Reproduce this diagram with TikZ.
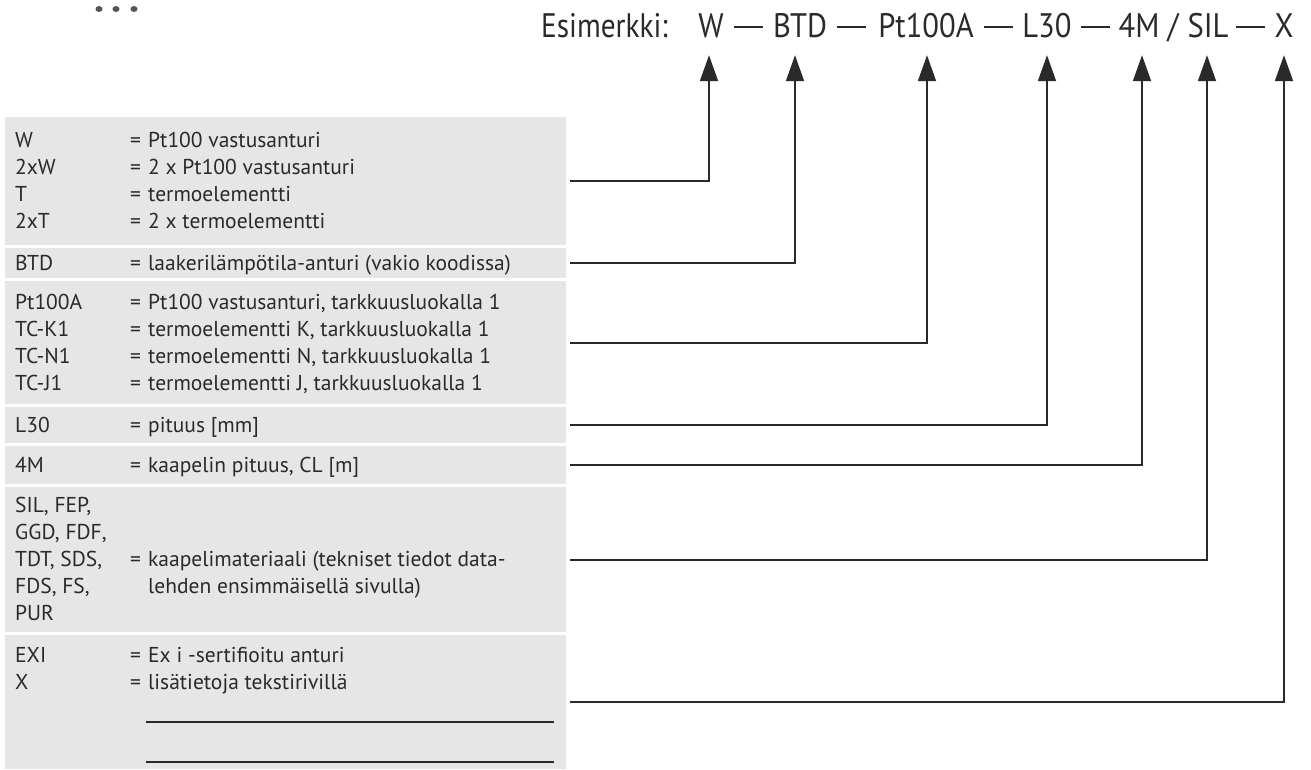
\documentclass[tikz,border=0pt]{standalone}
\usepackage{fontspec}
\setmainfont{PT Sans}
\newfontfamily\headfont[FakeStretch=0.9]{PT Sans}
\newfontfamily\esimfont[FakeStretch=0.86]{PT Sans}
\usetikzlibrary{arrows.meta}
\definecolor{boxgray}{HTML}{E6E6E6}
\definecolor{ink}{HTML}{2A2A2A}
\newcommand\tabrow[4]{%
  \node[code] (c#1) at (15,#2) {#3};
  \node[desc] (d#1) at (130,#2) {\makebox[18pt][l]{=}#4};}
\newcommand\hdash{\rule[9.5pt]{29pt}{1.7pt}}
\begin{document}
\begin{tikzpicture}[x=1pt,y=-1pt,
  blk/.style={fill=boxgray, draw=none, minimum width=561pt, inner sep=0pt, anchor=north west},
  code/.style={font=\fontsize{21.5}{27}\selectfont, text=ink, inner sep=0pt, anchor=base west},
  desc/.style={font=\fontsize{21.5}{27}\selectfont, text=ink, inner sep=0pt, anchor=base west},
  head/.style={font=\headfont\fontsize{34}{34}\selectfont, text=ink, inner sep=0pt, anchor=base, text depth=0pt},
  conn/.style={draw=ink, line width=1.8pt, shorten <=4pt, shorten >=18pt, -{Triangle[length=26pt,width=18pt]}},
  uline/.style={draw=ink, line width=1.5pt}]
\path[use as bounding box] (0,0) rectangle (1311,769);

% remnant marks at top left
\fill[ink!80] (99,9) ellipse (3.5 and 3);
\fill[ink!80] (116,9) ellipse (3.5 and 3);
\fill[ink!80] (134,9) ellipse (3.5 and 3);

% heading
\node[head, font=\esimfont\fontsize{34}{34}\selectfont, anchor=base west] (esim) at (541,37) {Esimerkki:};
\node[head] (W) at (711,37) {W};
\node[head] (d1) at (748,37) {\hdash};
\node[head] (BTD) at (800,37) {BTD};
\node[head] (d2) at (851,37) {\hdash};
\node[head] (Pt) at (926,37) {Pt100A};
\node[head] (d3) at (998,37) {\hdash};
\node[head] (L) at (1047,37) {L30};
\node[head] (d4) at (1095,37) {\hdash};
\node[head] (M) at (1139,37) {4M};
\node[head] (sl) at (1173,37) {/};
\node[head] (SIL) at (1208,37) {SIL};
\node[head] (d5) at (1250,37) {\hdash};
\node[head] (X) at (1284,37) {X};

% gray blocks
\node[blk, minimum height=128pt] (bW) at (5,117) {};
\node[blk, minimum height=30pt] (bBTD) at (5,248) {};
\node[blk, minimum height=123pt] (bPt) at (5,281) {};
\node[blk, minimum height=36pt] (bL) at (5,407) {};
\node[blk, minimum height=38pt] (bM) at (5,446) {};
\node[blk, minimum height=145pt] (bSIL) at (5,487) {};
\node[blk, minimum height=134pt] (bX) at (5,635) {};

% rows
\tabrow{1}{147.5}{W}{Pt100 vastusanturi}
\tabrow{2}{174.5}{2xW}{2 x Pt100 vastusanturi}
\tabrow{3}{201.5}{T}{termoelementti}
\tabrow{4}{228.5}{2xT}{2 x termoelementti}
\tabrow{5}{270}{BTD}{laakerilämpötila-anturi (vakio koodissa)}
\tabrow{6}{309}{Pt100A}{Pt100 vastusanturi, tarkkuusluokalla 1}
\tabrow{7}{336}{TC-K1}{termoelementti K, tarkkuusluokalla 1}
\tabrow{8}{363}{TC-N1}{termoelementti N, tarkkuusluokalla 1}
\tabrow{9}{390}{TC-J1}{termoelementti J, tarkkuusluokalla 1}
\tabrow{10}{432}{L30}{pituus [mm]}
\tabrow{11}{472}{4M}{kaapelin pituus, CL [m]}
\node[code] (s1) at (15,512.5) {SIL, FEP,};
\node[code] (s2) at (15,539.5) {GGD, FDF,};
\node[code] (s3) at (15,566.5) {TDT, SDS,};
\node[code] (s4) at (15,593.5) {FDS, FS,};
\node[code] (s5) at (15,620.5) {PUR};
\node[desc] (sd1) at (130,566.5) {\makebox[18pt][l]{=}kaapelimateriaali (tekniset tiedot data-};
\node[desc] (sd2) at (148,593.5) {lehden ensimmäisellä sivulla)};
\tabrow{12}{662}{EXI}{Ex i -sertifioitu anturi}
\tabrow{13}{689}{X}{lisätietoja tekstirivillä}
\draw[uline] (146,722) -- (554,722);
\draw[uline] (146,762) -- (554,762);

% connectors
\draw[conn] (bW.east) -| ([xshift=-2pt]W.south);
\draw[conn] (bBTD.east) -| ([xshift=-5pt]BTD.south);
\draw[conn] (bPt.east) -| ([xshift=1pt]Pt.south);
\draw[conn] (bL.east) -| (L.south);
\draw[conn] (bM.east) -| ([xshift=3pt]M.south);
\draw[conn] (bSIL.east) -| ([xshift=-1pt]SIL.south);
\draw[conn] (bX.east) -| (X.south);
\end{tikzpicture}
\end{document}
